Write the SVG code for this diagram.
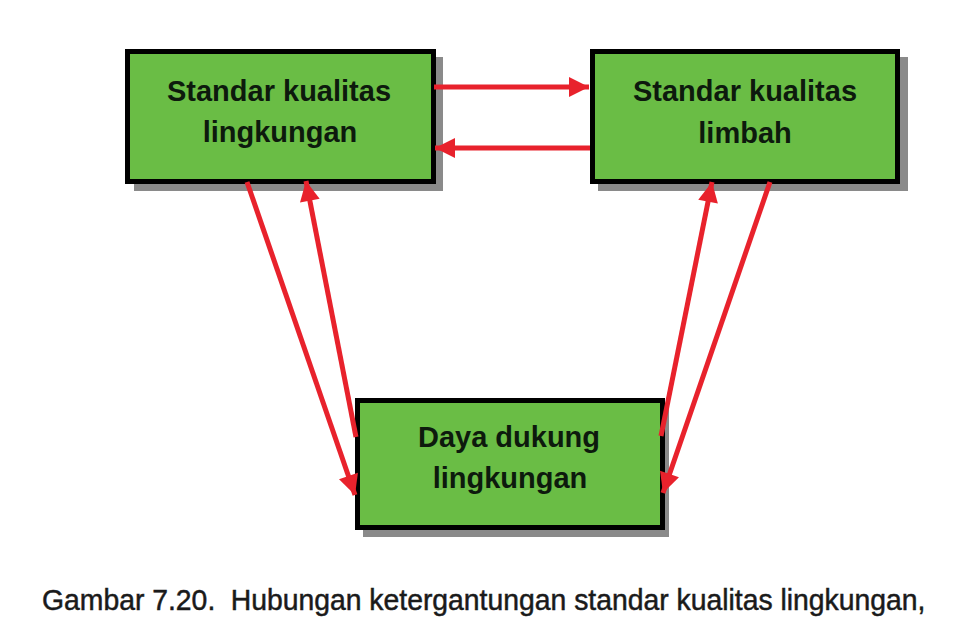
<svg xmlns="http://www.w3.org/2000/svg" width="960" height="630" viewBox="0 0 960 630">
<defs>
<style>
.shadow{fill:#8a8a8a;}
.box{fill:#6abd45;stroke:#000;stroke-width:5;}
.lbl{font-family:"Liberation Sans",Arial,sans-serif;font-weight:bold;font-size:29px;fill:#0d1a0d;text-anchor:middle;}
.conn{stroke:#e8222c;stroke-width:5;fill:none;}
.cap{font-family:"Liberation Sans",Arial,sans-serif;font-size:30px;fill:#1a1a1a;stroke:#1a1a1a;stroke-width:0.5;}
</style>
<marker id="ah" viewBox="0 0 10 10" refX="10" refY="5" markerWidth="4.4" markerHeight="4" markerUnits="strokeWidth" orient="auto">
<path d="M0,0 L10,5 L0,10 Z" fill="#e8222c"/>
</marker>
</defs>
<rect width="960" height="630" fill="#fff"/>
<g id="node-standar-lingkungan">
<rect class="shadow" x="134" y="57" width="309" height="134"/>
<rect class="box" x="127.5" y="51.5" width="306" height="130"/>
<text class="lbl" x="279" y="101">Standar kualitas</text>
<text class="lbl" x="280" y="142">lingkungan</text>
</g>
<g id="node-standar-limbah">
<rect class="shadow" x="598" y="57" width="310" height="134"/>
<rect class="box" x="592.5" y="51.5" width="305" height="130"/>
<text class="lbl" x="745" y="101">Standar kualitas</text>
<text class="lbl" x="745" y="143">limbah</text>
</g>
<g id="node-daya-dukung">
<rect class="shadow" x="363" y="406" width="306" height="131"/>
<rect class="box" x="357.5" y="400.5" width="305" height="127"/>
<text class="lbl" x="509" y="447">Daya dukung</text>
<text class="lbl" x="510" y="488">lingkungan</text>
</g>
<g id="connectors">
<line class="conn" x1="434" y1="87" x2="589" y2="87" marker-end="url(#ah)"/>
<line class="conn" x1="590" y1="148" x2="435" y2="148" marker-end="url(#ah)"/>
<line class="conn" x1="247" y1="182" x2="355" y2="495" marker-end="url(#ah)"/>
<line class="conn" x1="356" y1="437" x2="306" y2="181" marker-end="url(#ah)"/>
<line class="conn" x1="661" y1="436" x2="712" y2="182" marker-end="url(#ah)"/>
<line class="conn" x1="770" y1="182" x2="663" y2="493" marker-end="url(#ah)"/>
</g>
<text class="cap" transform="translate(42,610) scale(0.945,1)" x="0" y="0">Gambar 7.20. <tspan dx="8">Hubungan ketergantungan standar kualitas lingkungan,</tspan></text>
</svg>
